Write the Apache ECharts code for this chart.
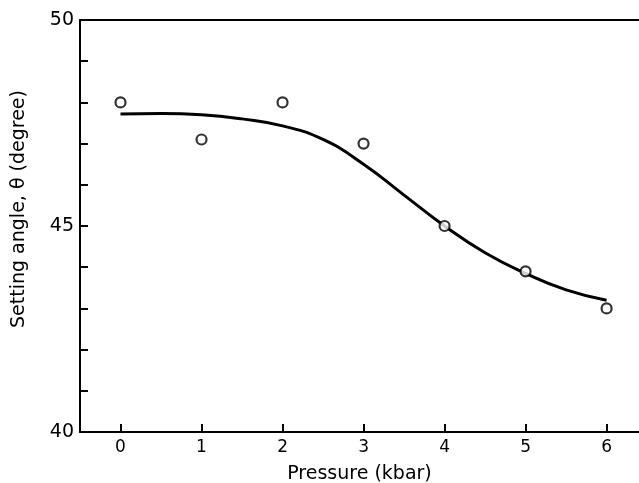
<!DOCTYPE html>
<html>
<head>
<meta charset="utf-8">
<script src="https://cdn.jsdelivr.net/npm/echarts@6/dist/echarts.min.js"></script>
<style>
  html, body { margin: 0; padding: 0; background: #fff; }
  #main { width: 639px; height: 483px; }
</style>
</head>
<body>
<div id="main"></div>
<script>
var myChart = echarts.init(document.getElementById('main'));

// measured points (open circles)
const pressure = [0, 1, 2, 3, 4, 5, 6];
const angle = [48.0, 47.1, 48.0, 47.0, 45.0, 43.9, 43.0];

// fitted curve
const curveX = [0, 0.5, 1, 1.5, 2, 2.5, 3, 3.5, 4, 4.5, 5, 5.5, 6];
const curveY = [47.72, 47.73, 47.7, 47.6, 47.43, 47.1, 46.5, 45.75, 45.0, 44.35, 43.85, 43.45, 43.2];

const xTicks = [0, 1, 2, 3, 4, 5, 6];

const font = 'DejaVu Sans';

const option = {
  animation: false,
  grid: {
    left: 80,
    top: 20,
    right: 0,
    bottom: 51,
    outerBoundsMode: 'none'
  },
  xAxis: [
    {
      type: 'value',
      min: -0.5,
      max: 6.4,
      name: 'Pressure (kbar)',
      nameLocation: 'middle',
      nameGap: 33,
      nameTextStyle: { color: '#000', fontSize: 19, fontFamily: font },
      axisLine: { onZero: false, lineStyle: { color: '#000', width: 2 } },
      axisTick: { inside: true, length: 8, customValues: xTicks, lineStyle: { color: '#000', width: 2 } },
      axisLabel: { customValues: xTicks, color: '#000', fontSize: 17, fontFamily: font, margin: 7 },
      splitLine: { show: false }
    },
    {
      type: 'value',
      position: 'top',
      min: -0.5,
      max: 6.4,
      axisLine: { show: true, onZero: false, lineStyle: { color: '#000', width: 2 } },
      axisTick: { show: false },
      axisLabel: { show: false },
      splitLine: { show: false }
    }
  ],
  yAxis: {
    type: 'value',
    min: 40,
    max: 50,
    interval: 1,
    name: 'Setting angle, θ (degree)',
    nameLocation: 'middle',
    nameGap: 51,
    nameTextStyle: { color: '#000', fontSize: 19, fontFamily: font, padding: [0, 0, 0, 34] },
    axisLine: { show: true, onZero: false, lineStyle: { color: '#000', width: 2 } },
    axisTick: { show: true, inside: true, length: 8, lineStyle: { color: '#000', width: 2 } },
    axisLabel: {
      color: '#000',
      fontSize: 19,
      fontFamily: font,
      margin: 6,
      formatter: function (v) { return v % 5 === 0 ? String(v) : ''; }
    },
    splitLine: { show: false }
  },
  series: [
    {
      type: 'line',
      smooth: 0.5,
      showSymbol: false,
      data: curveX.map(function (x, i) { return [x, curveY[i]]; }),
      lineStyle: { color: '#000', width: 3 },
      z: 2
    },
    {
      type: 'scatter',
      symbol: 'circle',
      symbolSize: 10,
      data: pressure.map(function (x, i) { return [x, angle[i]]; }),
      itemStyle: { color: '#fff', borderColor: '#000', borderWidth: 2.2 },
      z: 3
    }
  ]
};

myChart.setOption(option);
</script>
</body>
</html>
